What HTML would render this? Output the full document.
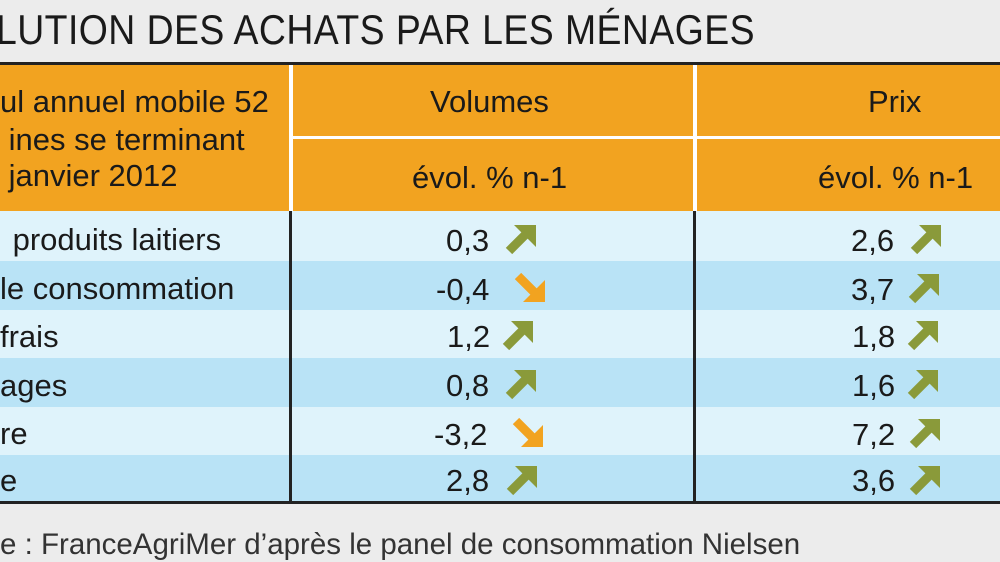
<!DOCTYPE html>
<html><head><style>
body{margin:0;width:1000px;height:562px;background:#ececec;position:relative;overflow:hidden;font-family:"Liberation Sans",sans-serif;color:#1a1a1a}
.a{position:absolute;white-space:nowrap}
.title{left:-4px;top:6px;font-size:42px;letter-spacing:0.5px;transform:scaleX(0.89);transform-origin:left;font-family:"Liberation Sans Narrow","Liberation Sans",sans-serif}
.hdr{position:absolute;left:0;top:65px;width:1000px;height:146px;background:#f2a320}
.row{position:absolute;left:0;width:1000px}
.c{font-size:31px}
.ar{position:absolute;width:34px;height:32px}
</style></head><body>
<div class="a title">LUTION DES ACHATS PAR LES MÉNAGES</div>
<div class="a" style="left:0;top:62px;width:1000px;height:3px;background:#222"></div>
<div class="hdr"></div>
<div class="a" style="left:289px;top:65px;width:4px;height:146px;background:#fff"></div>
<div class="a" style="left:693px;top:65px;width:4px;height:146px;background:#fff"></div>
<div class="a" style="left:289px;top:136px;width:711px;height:3px;background:#fff"></div>
<div class="a c" style="left:0;top:84px">ul annuel mobile 52</div>
<div class="a c" style="left:0;top:122px">&nbsp;ines se terminant</div>
<div class="a c" style="left:0;top:158px">&nbsp;janvier 2012</div>
<div class="a c" style="left:430px;top:84px">Volumes</div>
<div class="a c" style="left:868px;top:84px">Prix</div>
<div class="a c" style="left:412px;top:160px">évol. % n-1</div>
<div class="a c" style="left:818px;top:160px">évol. % n-1</div>

<div class="row" style="top:211px;height:50px;background:#dff3fb"></div>
<div class="row" style="top:261px;height:49px;background:#b9e3f6"></div>
<div class="row" style="top:310px;height:48px;background:#dff3fb"></div>
<div class="row" style="top:358px;height:49px;background:#b9e3f6"></div>
<div class="row" style="top:407px;height:48px;background:#dff3fb"></div>
<div class="row" style="top:455px;height:47px;background:#b9e3f6"></div>
<div class="a" style="left:0;top:501px;width:1000px;height:3px;background:#222"></div>
<div class="a" style="left:289px;top:211px;width:3px;height:291px;background:#222"></div>
<div class="a" style="left:693px;top:211px;width:3px;height:291px;background:#222"></div>

<svg width="0" height="0" style="position:absolute"><defs>
<g id="up"><line x1="5" y1="28" x2="22" y2="11" stroke="#8a9a3a" stroke-width="9"/><polygon points="10,2 32,2 32,24" fill="#8a9a3a"/></g>
<g id="dn"><line x1="5" y1="4" x2="22" y2="21" stroke="#f2a320" stroke-width="9"/><polygon points="10,30 32,30 32,8" fill="#f2a320"/></g>
</defs></svg>

<div class="a c" style="left:4px;top:222px">&nbsp;produits laitiers</div>
<div class="a c" style="left:0;top:271px">le consommation</div>
<div class="a c" style="left:0;top:319px">frais</div>
<div class="a c" style="left:0;top:368px">ages</div>
<div class="a c" style="left:0;top:416px">re</div>
<div class="a c" style="left:0;top:463px">e</div>

<div class="a c" style="left:446px;top:223px">0,3</div>
<div class="a c" style="left:436px;top:272px">-0,4</div>
<div class="a c" style="left:447px;top:319px">1,2</div>
<div class="a c" style="left:446px;top:368px">0,8</div>
<div class="a c" style="left:434px;top:417px">-3,2</div>
<div class="a c" style="left:446px;top:463px">2,8</div>

<div class="a c" style="left:851px;top:223px">2,6</div>
<div class="a c" style="left:851px;top:272px">3,7</div>
<div class="a c" style="left:852px;top:319px">1,8</div>
<div class="a c" style="left:852px;top:368px">1,6</div>
<div class="a c" style="left:852px;top:417px">7,2</div>
<div class="a c" style="left:852px;top:463px">3,6</div>

<svg class="ar" style="left:504px;top:223px"><use href="#up"/></svg>
<svg class="ar" style="left:513px;top:272px"><use href="#dn"/></svg>
<svg class="ar" style="left:501px;top:319px"><use href="#up"/></svg>
<svg class="ar" style="left:504px;top:368px"><use href="#up"/></svg>
<svg class="ar" style="left:511px;top:417px"><use href="#dn"/></svg>
<svg class="ar" style="left:505px;top:464px"><use href="#up"/></svg>

<svg class="ar" style="left:909px;top:223px"><use href="#up"/></svg>
<svg class="ar" style="left:907px;top:272px"><use href="#up"/></svg>
<svg class="ar" style="left:906px;top:319px"><use href="#up"/></svg>
<svg class="ar" style="left:906px;top:368px"><use href="#up"/></svg>
<svg class="ar" style="left:908px;top:417px"><use href="#up"/></svg>
<svg class="ar" style="left:908px;top:464px"><use href="#up"/></svg>

<div class="a" style="left:0;top:528px;font-size:29.5px;color:#333">e : FranceAgriMer d’après le panel de consommation Nielsen</div>
</body></html>
